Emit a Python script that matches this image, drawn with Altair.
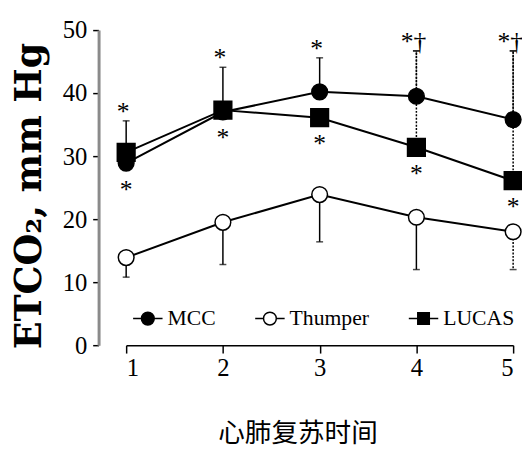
import altair as alt
import pandas as pd

# ---- data ----
times = [1, 2, 3, 4, 5]
series_names = ["MCC", "Thumper", "LUCAS"]
mcc = [28.9, 37.0, 40.2, 39.5, 35.8]
thumper = [13.9, 19.5, 23.9, 20.3, 18.0]
lucas = [30.6, 37.3, 36.1, 31.4, 26.1]
mcc_upper = [None, 44.1, 45.6, 46.7, 46.7]
lucas_upper = [35.6, None, None, 46.7, 46.7]
thumper_lower = [10.8, 12.8, 16.4, 12.0, 12.0]
above_marks = ["*", "*", "*", "*†", "*†"]
below_marks = ["*", "*", "*", "*", "*"]
x_ticks = [1, 2, 3, 4, 5]
y_ticks = [0, 10, 20, 30, 40, 50]

values = {"MCC": mcc, "Thumper": thumper, "LUCAS": lucas}
bounds = {"MCC": mcc_upper, "Thumper": thumper_lower, "LUCAS": lucas_upper}

rows = []
for s in series_names:
    for i, t in enumerate(times):
        rows.append({"series": s, "t": t, "value": values[s][i], "bound": bounds[s][i]})
df = pd.DataFrame(rows)

ann_rows = []
for i, t in enumerate(times):
    tops = [b for b in (mcc_upper[i], lucas_upper[i]) if b is not None]
    ann_rows.append({"t": t, "top": max(tops), "low": min(mcc[i], lucas[i]),
                     "above": above_marks[i], "below": below_marks[i]})
ann = pd.DataFrame(ann_rows)

x_scale = alt.Scale(domain=[1, 5], nice=False, zero=False)
y_scale = alt.Scale(domain=[0, 50], nice=False)

x_enc = alt.X("t:Q", scale=x_scale, axis=alt.Axis(
    values=x_ticks, format="d", grid=False,
    domainColor="black", domainWidth=1.5, tickColor="black", tickWidth=1.5, tickSize=8,
    labelFont="Liberation Serif", labelFontSize=25, labelColor="black", labelPadding=3,
    title="心肺复苏时间", titleFont="Noto Sans CJK SC", titleFontSize=27,
    titleFontWeight="normal", titleColor="black", titleX=174, titleY=98,
    titleBaseline="alphabetic", titleAlign="center"))
y_enc = alt.Y("value:Q", scale=y_scale, axis=alt.Axis(
    values=y_ticks, grid=False, offset=28,
    domainColor="#8a8a8a", domainWidth=3, tickColor="black", tickWidth=1.5, tickSize=6,
    labelFont="Liberation Serif", labelFontSize=25, labelColor="black", labelPadding=6,
    title="ETCO₂, mm Hg", titleFont="DejaVu Serif", titleFontSize=37,
    titleFontWeight="bold", titleColor="black", titleX=-59, titleY=168,
    titleAngle=270, titleBaseline="alphabetic", titleAlign="center"))

base = alt.Chart(df)

dash_expr = "(datum.series != 'Thumper' && datum.t >= 4) || (datum.series == 'Thumper' && datum.t == 5)"

err = base.transform_filter("datum.bound != null").mark_rule(color="black", strokeWidth=1.5).encode(
    x=x_enc, y=y_enc, y2="bound:Q",
    strokeDash=alt.condition(dash_expr, alt.value([2, 1.5]), alt.value([1, 0])))
caps = base.transform_filter("datum.bound != null").mark_tick(
    color="black", orient="horizontal", size=7, thickness=1.5).encode(
    x="t:Q", y=alt.Y("bound:Q"))

lines = base.mark_line(color="black", strokeWidth=2).encode(
    x="t:Q", y="value:Q", detail="series:N", order="t:Q")

styles = [("Thumper", "circle", "white", 254), ("LUCAS", "square", "black", 324),
          ("MCC", "circle", "black", 254)]
pts = []
for name, shp, fillc, sz in styles:
    pts.append(base.transform_filter(alt.datum.series == name).mark_point(
        shape=shp, fill=fillc, stroke="black", strokeWidth=1.5, size=sz, opacity=1,
        filled=False).encode(x="t:Q", y="value:Q"))

path_mcc = "M-2.3,0H2.3M1,0A1,1 0 1 1 -1,0A1,1 0 1 1 1,0Z"
path_thu = "M-2.3,0H-1M1,0H2.3M1,0A1,1 0 1 1 -1,0A1,1 0 1 1 1,0Z"
path_luc = "M-2.3,0H2.3M-0.9,-0.9H0.9V0.9H-0.9Z"
leg = alt.Legend(orient="none", legendX=11, legendY=282, direction="horizontal", title=None,
                 labelFont="Liberation Serif", labelFontSize=22, labelColor="black",
                 symbolSize=169, labelOffset=9, columnPadding=37, padding=0,
                 symbolStrokeColor="black", symbolStrokeWidth=1.5)
legend_layer = base.transform_filter("false").mark_point(
    strokeWidth=1.5, opacity=1, filled=False).encode(
    x="t:Q", y="value:Q",
    shape=alt.Shape("series:N", scale=alt.Scale(domain=series_names,
                    range=[path_mcc, path_thu, path_luc]), legend=leg),
    fill=alt.Fill("series:N", scale=alt.Scale(domain=series_names,
                  range=["black", "white", "black"]), legend=leg),
    stroke=alt.Stroke("series:N", scale=alt.Scale(domain=series_names,
                      range=["black", "black", "black"]), legend=leg))

txt_above = alt.Chart(ann).mark_text(font="Liberation Serif", fontSize=26, fill="black",
                                     baseline="alphabetic", dy=-1, dx=-3).encode(
    x="t:Q", y="top:Q", text="above:N")
txt_below = alt.Chart(ann).mark_text(font="Liberation Serif", fontSize=26, fill="black",
                                     baseline="alphabetic", dy=35).encode(
    x="t:Q", y="low:Q", text="below:N")

chart = alt.layer(err, caps, lines, *pts, txt_above, txt_below, legend_layer).resolve_scale(
    shape="independent", fill="independent", stroke="independent").properties(
    width=393, height=320,
    padding={"left": 120, "top": 19, "right": 9, "bottom": 103},
    autosize=alt.AutoSizeParams(type="none"),
    background="white").configure_view(stroke=None)

chart.save("out.html", embed_options={"renderer": "svg", "actions": False})
